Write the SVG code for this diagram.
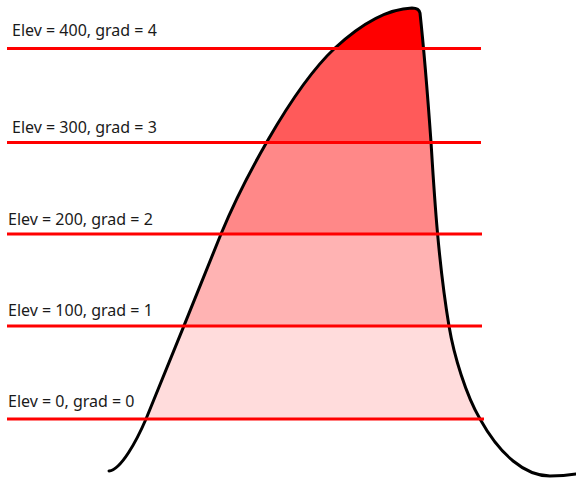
<svg xmlns="http://www.w3.org/2000/svg" width="576" height="479" viewBox="0 0 576 479">
<style>
.lbl{font-family:"Noto Sans","Open Sans",sans-serif;font-size:16px;fill:#1a1a1a}
.lv{stroke:#ff0000;stroke-width:3;fill:none}
.mtn{fill:none;stroke:#000;stroke-width:3;stroke-linejoin:round;stroke-linecap:round}
</style>
<defs>
<clipPath id="mclip">
<path d="M109,471 C121,470 137,440 146,419 C159,388 208,266 221,234 C240,188 290,90 335,48 C360,25 385,9 412,8 Q419,8 420,13 C424,50 428,100 431,142 C434,190 438,260 449,326 C454,356 466,395 480,419 Z"/>
</clipPath>
</defs>
<rect width="576" height="479" fill="#fff"/>
<g id="bands" clip-path="url(#mclip)">
<rect x="0" y="0" width="576" height="48.5" fill="#ff0000"/>
<rect x="0" y="48.5" width="576" height="94" fill="#ff5a5a"/>
<rect x="0" y="142.5" width="576" height="91.5" fill="#ff8888"/>
<rect x="0" y="234" width="576" height="92" fill="#ffb3b3"/>
<rect x="0" y="326" width="576" height="93" fill="#ffdcdc"/>
</g>
<g id="mountain">
<path class="mtn" d="M109,471 C121,470 137,440 146,419 C159,388 208,266 221,234 C240,188 290,90 335,48 C360,25 385,9 412,8 Q419,8 420,13 C424,50 428,100 431,142 C434,190 438,260 449,326 C454,356 466,395 480,419 C500,455 525,476 550,476 C560,476 570,475 576,474"/>
</g>
<g id="connectors">
<line class="lv" x1="7" y1="48.5" x2="481" y2="48.5"/>
<line class="lv" x1="7" y1="142.5" x2="481" y2="142.5"/>
<line class="lv" x1="7" y1="234" x2="482" y2="234"/>
<line class="lv" x1="7" y1="326" x2="482" y2="326"/>
<line class="lv" x1="7" y1="419" x2="484" y2="419"/>
</g>
<g id="label400"><text class="lbl" x="12" y="36">Elev = 400, grad = 4</text></g>
<g id="label300"><text class="lbl" x="12" y="133">Elev = 300, grad = 3</text></g>
<g id="label200"><text class="lbl" x="8" y="225">Elev = 200, grad = 2</text></g>
<g id="label100"><text class="lbl" x="8" y="316">Elev = 100, grad = 1</text></g>
<g id="label0"><text class="lbl" x="8" y="407">Elev = 0, grad = 0</text></g>
</svg>
